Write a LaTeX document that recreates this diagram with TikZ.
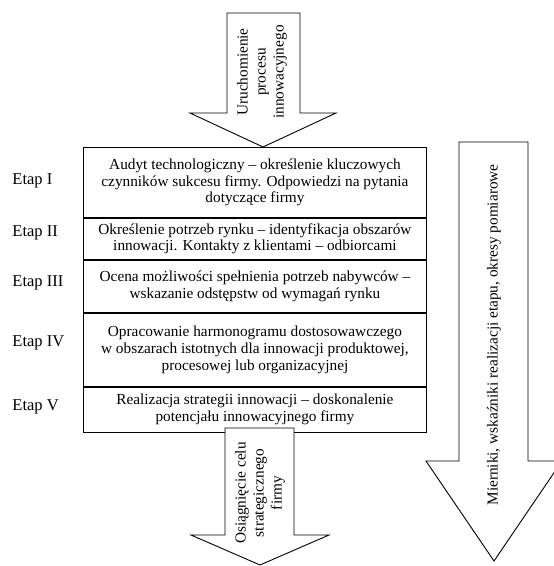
\documentclass[tikz,border=0pt]{standalone}
\usepackage{fontspec}
\setmainfont{Liberation Serif}
\begin{document}
\begin{tikzpicture}[x=1pt,y=-1pt, line width=0.9pt,
  rowbox/.style={draw, minimum width=343pt, anchor=north west, inner sep=0pt, align=center, font=\fontsize{15.3}{16.8}\selectfont},
  etap/.style={anchor=west, inner sep=0pt, font=\fontsize{16.5}{18}\selectfont},
  bigarrow/.style={draw, fill=white, line join=miter},
  arrowtext/.style={rotate=90, align=center, inner sep=0pt, font=\fontsize{15.3}{18}\selectfont}]
\useasboundingbox (0,0) rectangle (554,566);
\clip (0,0) rectangle (554,566);
% rows
\node[rowbox, minimum height=70pt] (r1) at (83,147) {Audyt technologiczny – określenie kluczowych\\czynników sukcesu firmy. Odpowiedzi na pytania\\dotyczące firmy};
\node[rowbox, minimum height=41pt] (r2) at (r1.south west) {Określenie potrzeb rynku – identyfikacja obszarów\\innowacji. Kontakty z klientami – odbiorcami};
\node[rowbox, minimum height=52pt] (r3) at (r2.south west) {Ocena możliwości spełnienia potrzeb nabywców –\\wskazanie odstępstw od wymagań rynku};
\node[rowbox, minimum height=73pt] (r4) at (r3.south west) {Opracowanie harmonogramu dostosowawczego\\w obszarach istotnych dla innowacji produktowej,\\procesowej lub organizacyjnej};
\node[rowbox, minimum height=45pt] (r5) at (r4.south west) {Realizacja strategii innowacji – doskonalenie\\potencjału innowacyjnego firmy};
% stage labels
\node[etap] (e1) at (12,181) {Etap I};
\node[etap] (e2) at (12,233) {Etap II};
\node[etap] (e3) at (12,283) {Etap III};
\node[etap] (e4) at (12,343) {Etap IV};
\node[etap] (e5) at (12,407) {Etap V};
% top arrow
\draw[bigarrow] (227,13) -- (300,13) -- (300,113) -- (336,113) -- (263,147) -- (190,113) -- (227,113) -- cycle;
\node[arrowtext] (t1) at (262,72) {Uruchomienie\\procesu\\innowacyjnego};
% bottom arrow
\draw[bigarrow] (225,428) -- (225,535) -- (191,535) -- (260,565) -- (329,535) -- (294,535) -- (294,428) -- cycle;
\node[arrowtext] (t2) at (260,493) {Osiągnięcie celu\\strategicznego\\firmy};
% right arrow
\draw[bigarrow] (459,142) -- (528,142) -- (528,461) -- (562,461) -- (494,561) -- (426,461) -- (459,461) -- cycle;
\node[arrowtext] (t3) at (494,335) {Mierniki, wskaźniki realizacji etapu, okresy pomiarowe};
\end{tikzpicture}
\end{document}
